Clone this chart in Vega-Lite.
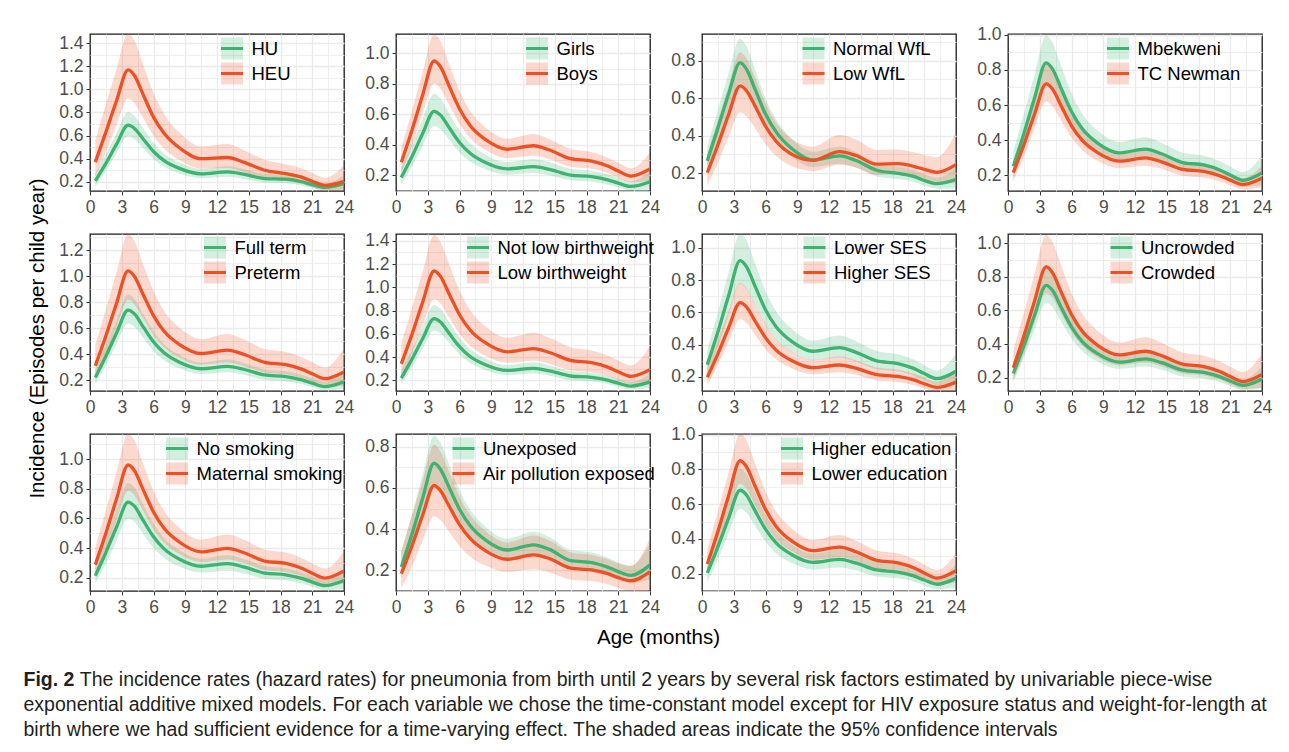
{
"$schema": "https://vega.github.io/schema/vega-lite/v6.json",
"background": "white",
"padding": {"left": 22, "top": 25, "right": 5, "bottom": 5},
"bounds": "flush",
"columns": 4,
"spacing": {"row": 43, "column": 52},
"data": {"values": [
{"p":1,"g":"HU","x":0.5,"y":0.207,"lo":0.16,"hi":0.267},
{"p":1,"g":"HU","x":1.5,"y":0.359,"lo":0.293,"hi":0.439},
{"p":1,"g":"HU","x":2.5,"y":0.524,"lo":0.444,"hi":0.618},
{"p":1,"g":"HU","x":3.6,"y":0.69,"lo":0.594,"hi":0.802},
{"p":1,"g":"HU","x":4.2,"y":0.662,"lo":0.57,"hi":0.769},
{"p":1,"g":"HU","x":5,"y":0.573,"lo":0.493,"hi":0.666},
{"p":1,"g":"HU","x":6,"y":0.462,"lo":0.398,"hi":0.537},
{"p":1,"g":"HU","x":7,"y":0.383,"lo":0.33,"hi":0.445},
{"p":1,"g":"HU","x":8.5,"y":0.314,"lo":0.27,"hi":0.365},
{"p":1,"g":"HU","x":10.5,"y":0.269,"lo":0.232,"hi":0.313},
{"p":1,"g":"HU","x":13,"y":0.286,"lo":0.244,"hi":0.335},
{"p":1,"g":"HU","x":14.5,"y":0.266,"lo":0.227,"hi":0.311},
{"p":1,"g":"HU","x":16.5,"y":0.228,"lo":0.193,"hi":0.269},
{"p":1,"g":"HU","x":18.5,"y":0.222,"lo":0.188,"hi":0.262},
{"p":1,"g":"HU","x":20,"y":0.2,"lo":0.168,"hi":0.238},
{"p":1,"g":"HU","x":21,"y":0.175,"lo":0.145,"hi":0.211},
{"p":1,"g":"HU","x":22.2,"y":0.152,"lo":0.123,"hi":0.188},
{"p":1,"g":"HU","x":24,"y":0.185,"lo":0.133,"hi":0.257},
{"p":1,"g":"HEU","x":0.5,"y":0.37,"lo":0.246,"hi":0.556},
{"p":1,"g":"HEU","x":1.5,"y":0.63,"lo":0.455,"hi":0.871},
{"p":1,"g":"HEU","x":2.5,"y":0.9,"lo":0.691,"hi":1.172},
{"p":1,"g":"HEU","x":3.6,"y":1.17,"lo":0.921,"hi":1.487},
{"p":1,"g":"HEU","x":4.2,"y":1.12,"lo":0.881,"hi":1.424},
{"p":1,"g":"HEU","x":5,"y":0.96,"lo":0.756,"hi":1.22},
{"p":1,"g":"HEU","x":6,"y":0.76,"lo":0.598,"hi":0.966},
{"p":1,"g":"HEU","x":7,"y":0.62,"lo":0.488,"hi":0.788},
{"p":1,"g":"HEU","x":8.5,"y":0.49,"lo":0.386,"hi":0.623},
{"p":1,"g":"HEU","x":10.5,"y":0.4,"lo":0.315,"hi":0.508},
{"p":1,"g":"HEU","x":13,"y":0.41,"lo":0.319,"hi":0.528},
{"p":1,"g":"HEU","x":14.5,"y":0.37,"lo":0.287,"hi":0.476},
{"p":1,"g":"HEU","x":16.5,"y":0.3,"lo":0.23,"hi":0.391},
{"p":1,"g":"HEU","x":18.5,"y":0.27,"lo":0.207,"hi":0.352},
{"p":1,"g":"HEU","x":20,"y":0.24,"lo":0.182,"hi":0.316},
{"p":1,"g":"HEU","x":21,"y":0.205,"lo":0.152,"hi":0.277},
{"p":1,"g":"HEU","x":22.2,"y":0.168,"lo":0.12,"hi":0.235},
{"p":1,"g":"HEU","x":24,"y":0.203,"lo":0.12,"hi":0.344},
{"p":2,"g":"Girls","x":0.5,"y":0.186,"lo":0.139,"hi":0.248},
{"p":2,"g":"Girls","x":1.5,"y":0.322,"lo":0.256,"hi":0.405},
{"p":2,"g":"Girls","x":2.5,"y":0.471,"lo":0.39,"hi":0.568},
{"p":2,"g":"Girls","x":3.6,"y":0.62,"lo":0.523,"hi":0.735},
{"p":2,"g":"Girls","x":4.2,"y":0.595,"lo":0.502,"hi":0.705},
{"p":2,"g":"Girls","x":5,"y":0.515,"lo":0.435,"hi":0.61},
{"p":2,"g":"Girls","x":6,"y":0.415,"lo":0.35,"hi":0.492},
{"p":2,"g":"Girls","x":7,"y":0.344,"lo":0.29,"hi":0.408},
{"p":2,"g":"Girls","x":8.5,"y":0.282,"lo":0.238,"hi":0.334},
{"p":2,"g":"Girls","x":10.5,"y":0.242,"lo":0.204,"hi":0.287},
{"p":2,"g":"Girls","x":13,"y":0.257,"lo":0.215,"hi":0.307},
{"p":2,"g":"Girls","x":14.5,"y":0.239,"lo":0.2,"hi":0.286},
{"p":2,"g":"Girls","x":16.5,"y":0.2015,"lo":0.167,"hi":0.243},
{"p":2,"g":"Girls","x":18.5,"y":0.191,"lo":0.158,"hi":0.23},
{"p":2,"g":"Girls","x":20,"y":0.1705,"lo":0.14,"hi":0.207},
{"p":2,"g":"Girls","x":21,"y":0.149,"lo":0.121,"hi":0.184},
{"p":2,"g":"Girls","x":22.2,"y":0.127,"lo":0.1,"hi":0.161},
{"p":2,"g":"Girls","x":24,"y":0.158,"lo":0.109,"hi":0.23},
{"p":2,"g":"Boys","x":0.5,"y":0.285,"lo":0.213,"hi":0.38},
{"p":2,"g":"Boys","x":1.5,"y":0.494,"lo":0.393,"hi":0.621},
{"p":2,"g":"Boys","x":2.5,"y":0.722,"lo":0.599,"hi":0.871},
{"p":2,"g":"Boys","x":3.6,"y":0.95,"lo":0.802,"hi":1.126},
{"p":2,"g":"Boys","x":4.2,"y":0.912,"lo":0.77,"hi":1.081},
{"p":2,"g":"Boys","x":5,"y":0.789,"lo":0.666,"hi":0.935},
{"p":2,"g":"Boys","x":6,"y":0.637,"lo":0.538,"hi":0.755},
{"p":2,"g":"Boys","x":7,"y":0.527,"lo":0.445,"hi":0.624},
{"p":2,"g":"Boys","x":8.5,"y":0.432,"lo":0.365,"hi":0.512},
{"p":2,"g":"Boys","x":10.5,"y":0.371,"lo":0.313,"hi":0.44},
{"p":2,"g":"Boys","x":13,"y":0.394,"lo":0.33,"hi":0.471},
{"p":2,"g":"Boys","x":14.5,"y":0.366,"lo":0.306,"hi":0.437},
{"p":2,"g":"Boys","x":16.5,"y":0.309,"lo":0.256,"hi":0.373},
{"p":2,"g":"Boys","x":18.5,"y":0.293,"lo":0.243,"hi":0.353},
{"p":2,"g":"Boys","x":20,"y":0.261,"lo":0.215,"hi":0.317},
{"p":2,"g":"Boys","x":21,"y":0.228,"lo":0.184,"hi":0.282},
{"p":2,"g":"Boys","x":22.2,"y":0.195,"lo":0.154,"hi":0.247},
{"p":2,"g":"Boys","x":24,"y":0.242,"lo":0.166,"hi":0.352},
{"p":3,"g":"Normal WfL","x":0.5,"y":0.265,"lo":0.205,"hi":0.342},
{"p":3,"g":"Normal WfL","x":1.5,"y":0.44,"lo":0.359,"hi":0.539},
{"p":3,"g":"Normal WfL","x":2.5,"y":0.62,"lo":0.526,"hi":0.731},
{"p":3,"g":"Normal WfL","x":3.6,"y":0.79,"lo":0.68,"hi":0.918},
{"p":3,"g":"Normal WfL","x":4.2,"y":0.755,"lo":0.65,"hi":0.877},
{"p":3,"g":"Normal WfL","x":5,"y":0.65,"lo":0.56,"hi":0.755},
{"p":3,"g":"Normal WfL","x":6,"y":0.515,"lo":0.443,"hi":0.598},
{"p":3,"g":"Normal WfL","x":7,"y":0.42,"lo":0.362,"hi":0.488},
{"p":3,"g":"Normal WfL","x":8.5,"y":0.33,"lo":0.284,"hi":0.383},
{"p":3,"g":"Normal WfL","x":10.5,"y":0.27,"lo":0.232,"hi":0.314},
{"p":3,"g":"Normal WfL","x":13,"y":0.292,"lo":0.249,"hi":0.342},
{"p":3,"g":"Normal WfL","x":14.5,"y":0.268,"lo":0.229,"hi":0.314},
{"p":3,"g":"Normal WfL","x":16.5,"y":0.215,"lo":0.182,"hi":0.253},
{"p":3,"g":"Normal WfL","x":18.5,"y":0.198,"lo":0.168,"hi":0.233},
{"p":3,"g":"Normal WfL","x":20,"y":0.182,"lo":0.153,"hi":0.216},
{"p":3,"g":"Normal WfL","x":21,"y":0.16,"lo":0.133,"hi":0.193},
{"p":3,"g":"Normal WfL","x":22.2,"y":0.143,"lo":0.116,"hi":0.176},
{"p":3,"g":"Normal WfL","x":24,"y":0.165,"lo":0.119,"hi":0.23},
{"p":3,"g":"Low WfL","x":0.5,"y":0.202,"lo":0.134,"hi":0.304},
{"p":3,"g":"Low WfL","x":1.5,"y":0.35,"lo":0.253,"hi":0.484},
{"p":3,"g":"Low WfL","x":2.5,"y":0.51,"lo":0.392,"hi":0.664},
{"p":3,"g":"Low WfL","x":3.6,"y":0.666,"lo":0.524,"hi":0.846},
{"p":3,"g":"Low WfL","x":4.2,"y":0.64,"lo":0.504,"hi":0.813},
{"p":3,"g":"Low WfL","x":5,"y":0.56,"lo":0.441,"hi":0.712},
{"p":3,"g":"Low WfL","x":6,"y":0.45,"lo":0.354,"hi":0.572},
{"p":3,"g":"Low WfL","x":7,"y":0.37,"lo":0.291,"hi":0.47},
{"p":3,"g":"Low WfL","x":8.5,"y":0.3,"lo":0.236,"hi":0.381},
{"p":3,"g":"Low WfL","x":10.5,"y":0.268,"lo":0.211,"hi":0.341},
{"p":3,"g":"Low WfL","x":13,"y":0.314,"lo":0.244,"hi":0.404},
{"p":3,"g":"Low WfL","x":14.5,"y":0.295,"lo":0.229,"hi":0.38},
{"p":3,"g":"Low WfL","x":16.5,"y":0.248,"lo":0.19,"hi":0.323},
{"p":3,"g":"Low WfL","x":18.5,"y":0.25,"lo":0.192,"hi":0.326},
{"p":3,"g":"Low WfL","x":20,"y":0.236,"lo":0.179,"hi":0.311},
{"p":3,"g":"Low WfL","x":21,"y":0.22,"lo":0.163,"hi":0.297},
{"p":3,"g":"Low WfL","x":22.2,"y":0.204,"lo":0.146,"hi":0.285},
{"p":3,"g":"Low WfL","x":24,"y":0.245,"lo":0.145,"hi":0.416},
{"p":4,"g":"Mbekweni","x":0.5,"y":0.252,"lo":0.189,"hi":0.336},
{"p":4,"g":"Mbekweni","x":1.5,"y":0.437,"lo":0.347,"hi":0.55},
{"p":4,"g":"Mbekweni","x":2.5,"y":0.638,"lo":0.529,"hi":0.769},
{"p":4,"g":"Mbekweni","x":3.6,"y":0.84,"lo":0.709,"hi":0.995},
{"p":4,"g":"Mbekweni","x":4.2,"y":0.806,"lo":0.68,"hi":0.955},
{"p":4,"g":"Mbekweni","x":5,"y":0.697,"lo":0.588,"hi":0.826},
{"p":4,"g":"Mbekweni","x":6,"y":0.563,"lo":0.475,"hi":0.667},
{"p":4,"g":"Mbekweni","x":7,"y":0.466,"lo":0.393,"hi":0.552},
{"p":4,"g":"Mbekweni","x":8.5,"y":0.382,"lo":0.322,"hi":0.453},
{"p":4,"g":"Mbekweni","x":10.5,"y":0.328,"lo":0.277,"hi":0.389},
{"p":4,"g":"Mbekweni","x":13,"y":0.349,"lo":0.292,"hi":0.417},
{"p":4,"g":"Mbekweni","x":14.5,"y":0.323,"lo":0.27,"hi":0.386},
{"p":4,"g":"Mbekweni","x":16.5,"y":0.273,"lo":0.226,"hi":0.329},
{"p":4,"g":"Mbekweni","x":18.5,"y":0.259,"lo":0.215,"hi":0.312},
{"p":4,"g":"Mbekweni","x":20,"y":0.231,"lo":0.19,"hi":0.281},
{"p":4,"g":"Mbekweni","x":21,"y":0.202,"lo":0.163,"hi":0.25},
{"p":4,"g":"Mbekweni","x":22.2,"y":0.172,"lo":0.136,"hi":0.218},
{"p":4,"g":"Mbekweni","x":24,"y":0.214,"lo":0.147,"hi":0.311},
{"p":4,"g":"TC Newman","x":0.5,"y":0.216,"lo":0.167,"hi":0.279},
{"p":4,"g":"TC Newman","x":1.5,"y":0.374,"lo":0.306,"hi":0.458},
{"p":4,"g":"TC Newman","x":2.5,"y":0.547,"lo":0.464,"hi":0.645},
{"p":4,"g":"TC Newman","x":3.6,"y":0.72,"lo":0.62,"hi":0.837},
{"p":4,"g":"TC Newman","x":4.2,"y":0.691,"lo":0.595,"hi":0.803},
{"p":4,"g":"TC Newman","x":5,"y":0.598,"lo":0.515,"hi":0.695},
{"p":4,"g":"TC Newman","x":6,"y":0.482,"lo":0.415,"hi":0.56},
{"p":4,"g":"TC Newman","x":7,"y":0.4,"lo":0.344,"hi":0.465},
{"p":4,"g":"TC Newman","x":8.5,"y":0.328,"lo":0.282,"hi":0.381},
{"p":4,"g":"TC Newman","x":10.5,"y":0.281,"lo":0.242,"hi":0.327},
{"p":4,"g":"TC Newman","x":13,"y":0.299,"lo":0.255,"hi":0.35},
{"p":4,"g":"TC Newman","x":14.5,"y":0.277,"lo":0.237,"hi":0.324},
{"p":4,"g":"TC Newman","x":16.5,"y":0.234,"lo":0.198,"hi":0.276},
{"p":4,"g":"TC Newman","x":18.5,"y":0.222,"lo":0.188,"hi":0.262},
{"p":4,"g":"TC Newman","x":20,"y":0.198,"lo":0.167,"hi":0.235},
{"p":4,"g":"TC Newman","x":21,"y":0.173,"lo":0.143,"hi":0.209},
{"p":4,"g":"TC Newman","x":22.2,"y":0.148,"lo":0.12,"hi":0.183},
{"p":4,"g":"TC Newman","x":24,"y":0.184,"lo":0.132,"hi":0.256},
{"p":5,"g":"Full term","x":0.5,"y":0.222,"lo":0.172,"hi":0.286},
{"p":5,"g":"Full term","x":1.5,"y":0.385,"lo":0.315,"hi":0.471},
{"p":5,"g":"Full term","x":2.5,"y":0.562,"lo":0.477,"hi":0.663},
{"p":5,"g":"Full term","x":3.6,"y":0.74,"lo":0.637,"hi":0.86},
{"p":5,"g":"Full term","x":4.2,"y":0.71,"lo":0.611,"hi":0.825},
{"p":5,"g":"Full term","x":5,"y":0.614,"lo":0.529,"hi":0.713},
{"p":5,"g":"Full term","x":6,"y":0.496,"lo":0.427,"hi":0.576},
{"p":5,"g":"Full term","x":7,"y":0.411,"lo":0.354,"hi":0.478},
{"p":5,"g":"Full term","x":8.5,"y":0.337,"lo":0.29,"hi":0.392},
{"p":5,"g":"Full term","x":10.5,"y":0.289,"lo":0.249,"hi":0.336},
{"p":5,"g":"Full term","x":13,"y":0.307,"lo":0.262,"hi":0.36},
{"p":5,"g":"Full term","x":14.5,"y":0.285,"lo":0.243,"hi":0.334},
{"p":5,"g":"Full term","x":16.5,"y":0.241,"lo":0.204,"hi":0.284},
{"p":5,"g":"Full term","x":18.5,"y":0.228,"lo":0.193,"hi":0.269},
{"p":5,"g":"Full term","x":20,"y":0.2035,"lo":0.171,"hi":0.242},
{"p":5,"g":"Full term","x":21,"y":0.178,"lo":0.148,"hi":0.215},
{"p":5,"g":"Full term","x":22.2,"y":0.152,"lo":0.123,"hi":0.188},
{"p":5,"g":"Full term","x":24,"y":0.189,"lo":0.136,"hi":0.263},
{"p":5,"g":"Preterm","x":0.5,"y":0.312,"lo":0.207,"hi":0.469},
{"p":5,"g":"Preterm","x":1.5,"y":0.541,"lo":0.391,"hi":0.748},
{"p":5,"g":"Preterm","x":2.5,"y":0.79,"lo":0.607,"hi":1.029},
{"p":5,"g":"Preterm","x":3.6,"y":1.04,"lo":0.818,"hi":1.322},
{"p":5,"g":"Preterm","x":4.2,"y":0.998,"lo":0.785,"hi":1.268},
{"p":5,"g":"Preterm","x":5,"y":0.863,"lo":0.679,"hi":1.097},
{"p":5,"g":"Preterm","x":6,"y":0.697,"lo":0.549,"hi":0.886},
{"p":5,"g":"Preterm","x":7,"y":0.577,"lo":0.454,"hi":0.733},
{"p":5,"g":"Preterm","x":8.5,"y":0.473,"lo":0.372,"hi":0.601},
{"p":5,"g":"Preterm","x":10.5,"y":0.406,"lo":0.32,"hi":0.516},
{"p":5,"g":"Preterm","x":13,"y":0.432,"lo":0.336,"hi":0.556},
{"p":5,"g":"Preterm","x":14.5,"y":0.4,"lo":0.311,"hi":0.515},
{"p":5,"g":"Preterm","x":16.5,"y":0.338,"lo":0.26,"hi":0.44},
{"p":5,"g":"Preterm","x":18.5,"y":0.32,"lo":0.246,"hi":0.417},
{"p":5,"g":"Preterm","x":20,"y":0.286,"lo":0.217,"hi":0.377},
{"p":5,"g":"Preterm","x":21,"y":0.25,"lo":0.185,"hi":0.338},
{"p":5,"g":"Preterm","x":22.2,"y":0.213,"lo":0.152,"hi":0.298},
{"p":5,"g":"Preterm","x":24,"y":0.265,"lo":0.156,"hi":0.449},
{"p":6,"g":"Not low birthweight","x":0.5,"y":0.219,"lo":0.17,"hi":0.283},
{"p":6,"g":"Not low birthweight","x":1.5,"y":0.38,"lo":0.31,"hi":0.465},
{"p":6,"g":"Not low birthweight","x":2.5,"y":0.555,"lo":0.471,"hi":0.654},
{"p":6,"g":"Not low birthweight","x":3.6,"y":0.73,"lo":0.629,"hi":0.848},
{"p":6,"g":"Not low birthweight","x":4.2,"y":0.701,"lo":0.604,"hi":0.815},
{"p":6,"g":"Not low birthweight","x":5,"y":0.606,"lo":0.522,"hi":0.704},
{"p":6,"g":"Not low birthweight","x":6,"y":0.489,"lo":0.421,"hi":0.568},
{"p":6,"g":"Not low birthweight","x":7,"y":0.405,"lo":0.349,"hi":0.471},
{"p":6,"g":"Not low birthweight","x":8.5,"y":0.332,"lo":0.286,"hi":0.386},
{"p":6,"g":"Not low birthweight","x":10.5,"y":0.285,"lo":0.245,"hi":0.331},
{"p":6,"g":"Not low birthweight","x":13,"y":0.303,"lo":0.259,"hi":0.355},
{"p":6,"g":"Not low birthweight","x":14.5,"y":0.281,"lo":0.24,"hi":0.329},
{"p":6,"g":"Not low birthweight","x":16.5,"y":0.237,"lo":0.201,"hi":0.279},
{"p":6,"g":"Not low birthweight","x":18.5,"y":0.225,"lo":0.191,"hi":0.265},
{"p":6,"g":"Not low birthweight","x":20,"y":0.201,"lo":0.169,"hi":0.239},
{"p":6,"g":"Not low birthweight","x":21,"y":0.175,"lo":0.145,"hi":0.211},
{"p":6,"g":"Not low birthweight","x":22.2,"y":0.15,"lo":0.122,"hi":0.185},
{"p":6,"g":"Not low birthweight","x":24,"y":0.186,"lo":0.134,"hi":0.259},
{"p":6,"g":"Low birthweight","x":0.5,"y":0.342,"lo":0.227,"hi":0.514},
{"p":6,"g":"Low birthweight","x":1.5,"y":0.593,"lo":0.429,"hi":0.82},
{"p":6,"g":"Low birthweight","x":2.5,"y":0.866,"lo":0.665,"hi":1.128},
{"p":6,"g":"Low birthweight","x":3.6,"y":1.14,"lo":0.897,"hi":1.449},
{"p":6,"g":"Low birthweight","x":4.2,"y":1.094,"lo":0.861,"hi":1.39},
{"p":6,"g":"Low birthweight","x":5,"y":0.946,"lo":0.745,"hi":1.202},
{"p":6,"g":"Low birthweight","x":6,"y":0.764,"lo":0.601,"hi":0.971},
{"p":6,"g":"Low birthweight","x":7,"y":0.633,"lo":0.498,"hi":0.805},
{"p":6,"g":"Low birthweight","x":8.5,"y":0.519,"lo":0.408,"hi":0.66},
{"p":6,"g":"Low birthweight","x":10.5,"y":0.445,"lo":0.35,"hi":0.566},
{"p":6,"g":"Low birthweight","x":13,"y":0.473,"lo":0.368,"hi":0.609},
{"p":6,"g":"Low birthweight","x":14.5,"y":0.439,"lo":0.341,"hi":0.565},
{"p":6,"g":"Low birthweight","x":16.5,"y":0.371,"lo":0.285,"hi":0.483},
{"p":6,"g":"Low birthweight","x":18.5,"y":0.351,"lo":0.27,"hi":0.457},
{"p":6,"g":"Low birthweight","x":20,"y":0.3135,"lo":0.238,"hi":0.413},
{"p":6,"g":"Low birthweight","x":21,"y":0.274,"lo":0.203,"hi":0.37},
{"p":6,"g":"Low birthweight","x":22.2,"y":0.234,"lo":0.167,"hi":0.327},
{"p":6,"g":"Low birthweight","x":24,"y":0.291,"lo":0.172,"hi":0.494},
{"p":7,"g":"Lower SES","x":0.5,"y":0.276,"lo":0.207,"hi":0.368},
{"p":7,"g":"Lower SES","x":1.5,"y":0.478,"lo":0.38,"hi":0.601},
{"p":7,"g":"Lower SES","x":2.5,"y":0.699,"lo":0.579,"hi":0.843},
{"p":7,"g":"Lower SES","x":3.6,"y":0.92,"lo":0.776,"hi":1.09},
{"p":7,"g":"Lower SES","x":4.2,"y":0.883,"lo":0.745,"hi":1.046},
{"p":7,"g":"Lower SES","x":5,"y":0.764,"lo":0.645,"hi":0.905},
{"p":7,"g":"Lower SES","x":6,"y":0.616,"lo":0.52,"hi":0.73},
{"p":7,"g":"Lower SES","x":7,"y":0.511,"lo":0.431,"hi":0.606},
{"p":7,"g":"Lower SES","x":8.5,"y":0.419,"lo":0.354,"hi":0.497},
{"p":7,"g":"Lower SES","x":10.5,"y":0.359,"lo":0.303,"hi":0.425},
{"p":7,"g":"Lower SES","x":13,"y":0.382,"lo":0.32,"hi":0.456},
{"p":7,"g":"Lower SES","x":14.5,"y":0.354,"lo":0.296,"hi":0.423},
{"p":7,"g":"Lower SES","x":16.5,"y":0.299,"lo":0.248,"hi":0.361},
{"p":7,"g":"Lower SES","x":18.5,"y":0.283,"lo":0.235,"hi":0.341},
{"p":7,"g":"Lower SES","x":20,"y":0.253,"lo":0.208,"hi":0.308},
{"p":7,"g":"Lower SES","x":21,"y":0.221,"lo":0.179,"hi":0.273},
{"p":7,"g":"Lower SES","x":22.2,"y":0.189,"lo":0.149,"hi":0.24},
{"p":7,"g":"Lower SES","x":24,"y":0.235,"lo":0.162,"hi":0.342},
{"p":7,"g":"Higher SES","x":0.5,"y":0.198,"lo":0.148,"hi":0.264},
{"p":7,"g":"Higher SES","x":1.5,"y":0.343,"lo":0.273,"hi":0.431},
{"p":7,"g":"Higher SES","x":2.5,"y":0.502,"lo":0.416,"hi":0.605},
{"p":7,"g":"Higher SES","x":3.6,"y":0.66,"lo":0.557,"hi":0.782},
{"p":7,"g":"Higher SES","x":4.2,"y":0.634,"lo":0.535,"hi":0.751},
{"p":7,"g":"Higher SES","x":5,"y":0.548,"lo":0.463,"hi":0.649},
{"p":7,"g":"Higher SES","x":6,"y":0.442,"lo":0.373,"hi":0.524},
{"p":7,"g":"Higher SES","x":7,"y":0.366,"lo":0.309,"hi":0.434},
{"p":7,"g":"Higher SES","x":8.5,"y":0.3,"lo":0.253,"hi":0.356},
{"p":7,"g":"Higher SES","x":10.5,"y":0.257,"lo":0.217,"hi":0.305},
{"p":7,"g":"Higher SES","x":13,"y":0.274,"lo":0.229,"hi":0.327},
{"p":7,"g":"Higher SES","x":14.5,"y":0.254,"lo":0.213,"hi":0.304},
{"p":7,"g":"Higher SES","x":16.5,"y":0.2145,"lo":0.178,"hi":0.259},
{"p":7,"g":"Higher SES","x":18.5,"y":0.203,"lo":0.168,"hi":0.245},
{"p":7,"g":"Higher SES","x":20,"y":0.1815,"lo":0.149,"hi":0.221},
{"p":7,"g":"Higher SES","x":21,"y":0.158,"lo":0.128,"hi":0.195},
{"p":7,"g":"Higher SES","x":22.2,"y":0.135,"lo":0.106,"hi":0.171},
{"p":7,"g":"Higher SES","x":24,"y":0.168,"lo":0.116,"hi":0.244},
{"p":8,"g":"Uncrowded","x":0.5,"y":0.225,"lo":0.174,"hi":0.29},
{"p":8,"g":"Uncrowded","x":1.5,"y":0.39,"lo":0.319,"hi":0.477},
{"p":8,"g":"Uncrowded","x":2.5,"y":0.57,"lo":0.483,"hi":0.672},
{"p":8,"g":"Uncrowded","x":3.6,"y":0.75,"lo":0.646,"hi":0.872},
{"p":8,"g":"Uncrowded","x":4.2,"y":0.72,"lo":0.62,"hi":0.837},
{"p":8,"g":"Uncrowded","x":5,"y":0.6225,"lo":0.536,"hi":0.723},
{"p":8,"g":"Uncrowded","x":6,"y":0.5025,"lo":0.433,"hi":0.584},
{"p":8,"g":"Uncrowded","x":7,"y":0.416,"lo":0.358,"hi":0.483},
{"p":8,"g":"Uncrowded","x":8.5,"y":0.341,"lo":0.294,"hi":0.396},
{"p":8,"g":"Uncrowded","x":10.5,"y":0.2925,"lo":0.252,"hi":0.34},
{"p":8,"g":"Uncrowded","x":13,"y":0.311,"lo":0.266,"hi":0.364},
{"p":8,"g":"Uncrowded","x":14.5,"y":0.289,"lo":0.247,"hi":0.338},
{"p":8,"g":"Uncrowded","x":16.5,"y":0.244,"lo":0.207,"hi":0.288},
{"p":8,"g":"Uncrowded","x":18.5,"y":0.231,"lo":0.196,"hi":0.272},
{"p":8,"g":"Uncrowded","x":20,"y":0.206,"lo":0.173,"hi":0.245},
{"p":8,"g":"Uncrowded","x":21,"y":0.18,"lo":0.149,"hi":0.217},
{"p":8,"g":"Uncrowded","x":22.2,"y":0.154,"lo":0.125,"hi":0.19},
{"p":8,"g":"Uncrowded","x":24,"y":0.191,"lo":0.137,"hi":0.266},
{"p":8,"g":"Crowded","x":0.5,"y":0.258,"lo":0.184,"hi":0.362},
{"p":8,"g":"Crowded","x":1.5,"y":0.447,"lo":0.341,"hi":0.586},
{"p":8,"g":"Crowded","x":2.5,"y":0.654,"lo":0.525,"hi":0.815},
{"p":8,"g":"Crowded","x":3.6,"y":0.86,"lo":0.704,"hi":1.05},
{"p":8,"g":"Crowded","x":4.2,"y":0.826,"lo":0.676,"hi":1.009},
{"p":8,"g":"Crowded","x":5,"y":0.714,"lo":0.585,"hi":0.872},
{"p":8,"g":"Crowded","x":6,"y":0.576,"lo":0.472,"hi":0.703},
{"p":8,"g":"Crowded","x":7,"y":0.477,"lo":0.391,"hi":0.582},
{"p":8,"g":"Crowded","x":8.5,"y":0.391,"lo":0.32,"hi":0.477},
{"p":8,"g":"Crowded","x":10.5,"y":0.335,"lo":0.274,"hi":0.409},
{"p":8,"g":"Crowded","x":13,"y":0.357,"lo":0.29,"hi":0.441},
{"p":8,"g":"Crowded","x":14.5,"y":0.331,"lo":0.268,"hi":0.408},
{"p":8,"g":"Crowded","x":16.5,"y":0.28,"lo":0.225,"hi":0.349},
{"p":8,"g":"Crowded","x":18.5,"y":0.265,"lo":0.213,"hi":0.33},
{"p":8,"g":"Crowded","x":20,"y":0.2365,"lo":0.188,"hi":0.298},
{"p":8,"g":"Crowded","x":21,"y":0.206,"lo":0.16,"hi":0.265},
{"p":8,"g":"Crowded","x":22.2,"y":0.176,"lo":0.133,"hi":0.233},
{"p":8,"g":"Crowded","x":24,"y":0.219,"lo":0.141,"hi":0.34},
{"p":9,"g":"No smoking","x":0.5,"y":0.213,"lo":0.16,"hi":0.284},
{"p":9,"g":"No smoking","x":1.5,"y":0.369,"lo":0.293,"hi":0.464},
{"p":9,"g":"No smoking","x":2.5,"y":0.54,"lo":0.448,"hi":0.651},
{"p":9,"g":"No smoking","x":3.6,"y":0.71,"lo":0.599,"hi":0.841},
{"p":9,"g":"No smoking","x":4.2,"y":0.682,"lo":0.576,"hi":0.808},
{"p":9,"g":"No smoking","x":5,"y":0.589,"lo":0.497,"hi":0.698},
{"p":9,"g":"No smoking","x":6,"y":0.476,"lo":0.402,"hi":0.564},
{"p":9,"g":"No smoking","x":7,"y":0.394,"lo":0.333,"hi":0.467},
{"p":9,"g":"No smoking","x":8.5,"y":0.323,"lo":0.273,"hi":0.383},
{"p":9,"g":"No smoking","x":10.5,"y":0.277,"lo":0.234,"hi":0.328},
{"p":9,"g":"No smoking","x":13,"y":0.295,"lo":0.247,"hi":0.353},
{"p":9,"g":"No smoking","x":14.5,"y":0.273,"lo":0.229,"hi":0.326},
{"p":9,"g":"No smoking","x":16.5,"y":0.231,"lo":0.192,"hi":0.279},
{"p":9,"g":"No smoking","x":18.5,"y":0.219,"lo":0.182,"hi":0.264},
{"p":9,"g":"No smoking","x":20,"y":0.195,"lo":0.16,"hi":0.237},
{"p":9,"g":"No smoking","x":21,"y":0.17,"lo":0.138,"hi":0.21},
{"p":9,"g":"No smoking","x":22.2,"y":0.146,"lo":0.115,"hi":0.185},
{"p":9,"g":"No smoking","x":24,"y":0.181,"lo":0.125,"hi":0.263},
{"p":9,"g":"Maternal smoking","x":0.5,"y":0.288,"lo":0.205,"hi":0.405},
{"p":9,"g":"Maternal smoking","x":1.5,"y":0.499,"lo":0.381,"hi":0.654},
{"p":9,"g":"Maternal smoking","x":2.5,"y":0.73,"lo":0.586,"hi":0.91},
{"p":9,"g":"Maternal smoking","x":3.6,"y":0.96,"lo":0.786,"hi":1.172},
{"p":9,"g":"Maternal smoking","x":4.2,"y":0.922,"lo":0.755,"hi":1.126},
{"p":9,"g":"Maternal smoking","x":5,"y":0.797,"lo":0.653,"hi":0.973},
{"p":9,"g":"Maternal smoking","x":6,"y":0.643,"lo":0.527,"hi":0.785},
{"p":9,"g":"Maternal smoking","x":7,"y":0.533,"lo":0.437,"hi":0.651},
{"p":9,"g":"Maternal smoking","x":8.5,"y":0.437,"lo":0.358,"hi":0.534},
{"p":9,"g":"Maternal smoking","x":10.5,"y":0.374,"lo":0.306,"hi":0.457},
{"p":9,"g":"Maternal smoking","x":13,"y":0.398,"lo":0.323,"hi":0.491},
{"p":9,"g":"Maternal smoking","x":14.5,"y":0.37,"lo":0.3,"hi":0.457},
{"p":9,"g":"Maternal smoking","x":16.5,"y":0.312,"lo":0.251,"hi":0.389},
{"p":9,"g":"Maternal smoking","x":18.5,"y":0.296,"lo":0.238,"hi":0.369},
{"p":9,"g":"Maternal smoking","x":20,"y":0.264,"lo":0.21,"hi":0.332},
{"p":9,"g":"Maternal smoking","x":21,"y":0.23,"lo":0.179,"hi":0.295},
{"p":9,"g":"Maternal smoking","x":22.2,"y":0.197,"lo":0.149,"hi":0.261},
{"p":9,"g":"Maternal smoking","x":24,"y":0.245,"lo":0.158,"hi":0.38},
{"p":10,"g":"Unexposed","x":0.5,"y":0.216,"lo":0.162,"hi":0.288},
{"p":10,"g":"Unexposed","x":1.5,"y":0.374,"lo":0.297,"hi":0.47},
{"p":10,"g":"Unexposed","x":2.5,"y":0.547,"lo":0.453,"hi":0.66},
{"p":10,"g":"Unexposed","x":3.6,"y":0.72,"lo":0.608,"hi":0.853},
{"p":10,"g":"Unexposed","x":4.2,"y":0.691,"lo":0.583,"hi":0.819},
{"p":10,"g":"Unexposed","x":5,"y":0.605,"lo":0.511,"hi":0.717},
{"p":10,"g":"Unexposed","x":6,"y":0.497,"lo":0.419,"hi":0.589},
{"p":10,"g":"Unexposed","x":7,"y":0.418,"lo":0.353,"hi":0.495},
{"p":10,"g":"Unexposed","x":8.5,"y":0.346,"lo":0.292,"hi":0.41},
{"p":10,"g":"Unexposed","x":10.5,"y":0.299,"lo":0.252,"hi":0.354},
{"p":10,"g":"Unexposed","x":13,"y":0.324,"lo":0.271,"hi":0.387},
{"p":10,"g":"Unexposed","x":14.5,"y":0.302,"lo":0.253,"hi":0.361},
{"p":10,"g":"Unexposed","x":16.5,"y":0.248,"lo":0.206,"hi":0.299},
{"p":10,"g":"Unexposed","x":18.5,"y":0.238,"lo":0.197,"hi":0.287},
{"p":10,"g":"Unexposed","x":20,"y":0.216,"lo":0.178,"hi":0.263},
{"p":10,"g":"Unexposed","x":21,"y":0.194,"lo":0.157,"hi":0.24},
{"p":10,"g":"Unexposed","x":22.2,"y":0.176,"lo":0.139,"hi":0.223},
{"p":10,"g":"Unexposed","x":24,"y":0.227,"lo":0.156,"hi":0.33},
{"p":10,"g":"Air pollution exposed","x":0.5,"y":0.184,"lo":0.114,"hi":0.296},
{"p":10,"g":"Air pollution exposed","x":1.5,"y":0.318,"lo":0.218,"hi":0.464},
{"p":10,"g":"Air pollution exposed","x":2.5,"y":0.465,"lo":0.342,"hi":0.633},
{"p":10,"g":"Air pollution exposed","x":3.6,"y":0.612,"lo":0.463,"hi":0.81},
{"p":10,"g":"Air pollution exposed","x":4.2,"y":0.587,"lo":0.444,"hi":0.777},
{"p":10,"g":"Air pollution exposed","x":5,"y":0.514,"lo":0.389,"hi":0.68},
{"p":10,"g":"Air pollution exposed","x":6,"y":0.422,"lo":0.319,"hi":0.558},
{"p":10,"g":"Air pollution exposed","x":7,"y":0.355,"lo":0.268,"hi":0.47},
{"p":10,"g":"Air pollution exposed","x":8.5,"y":0.294,"lo":0.222,"hi":0.389},
{"p":10,"g":"Air pollution exposed","x":10.5,"y":0.254,"lo":0.192,"hi":0.336},
{"p":10,"g":"Air pollution exposed","x":13,"y":0.275,"lo":0.205,"hi":0.369},
{"p":10,"g":"Air pollution exposed","x":14.5,"y":0.257,"lo":0.191,"hi":0.345},
{"p":10,"g":"Air pollution exposed","x":16.5,"y":0.211,"lo":0.155,"hi":0.287},
{"p":10,"g":"Air pollution exposed","x":18.5,"y":0.202,"lo":0.148,"hi":0.275},
{"p":10,"g":"Air pollution exposed","x":20,"y":0.184,"lo":0.133,"hi":0.254},
{"p":10,"g":"Air pollution exposed","x":21,"y":0.165,"lo":0.116,"hi":0.234},
{"p":10,"g":"Air pollution exposed","x":22.2,"y":0.15,"lo":0.101,"hi":0.222},
{"p":10,"g":"Air pollution exposed","x":24,"y":0.193,"lo":0.104,"hi":0.357},
{"p":11,"g":"Higher education","x":0.5,"y":0.204,"lo":0.153,"hi":0.272},
{"p":11,"g":"Higher education","x":1.5,"y":0.354,"lo":0.281,"hi":0.445},
{"p":11,"g":"Higher education","x":2.5,"y":0.517,"lo":0.429,"hi":0.624},
{"p":11,"g":"Higher education","x":3.6,"y":0.68,"lo":0.574,"hi":0.806},
{"p":11,"g":"Higher education","x":4.2,"y":0.653,"lo":0.551,"hi":0.774},
{"p":11,"g":"Higher education","x":5,"y":0.564,"lo":0.476,"hi":0.668},
{"p":11,"g":"Higher education","x":6,"y":0.456,"lo":0.385,"hi":0.54},
{"p":11,"g":"Higher education","x":7,"y":0.377,"lo":0.318,"hi":0.447},
{"p":11,"g":"Higher education","x":8.5,"y":0.309,"lo":0.261,"hi":0.366},
{"p":11,"g":"Higher education","x":10.5,"y":0.265,"lo":0.224,"hi":0.314},
{"p":11,"g":"Higher education","x":13,"y":0.282,"lo":0.236,"hi":0.337},
{"p":11,"g":"Higher education","x":14.5,"y":0.262,"lo":0.219,"hi":0.313},
{"p":11,"g":"Higher education","x":16.5,"y":0.221,"lo":0.183,"hi":0.267},
{"p":11,"g":"Higher education","x":18.5,"y":0.209,"lo":0.173,"hi":0.252},
{"p":11,"g":"Higher education","x":20,"y":0.187,"lo":0.154,"hi":0.227},
{"p":11,"g":"Higher education","x":21,"y":0.163,"lo":0.132,"hi":0.202},
{"p":11,"g":"Higher education","x":22.2,"y":0.139,"lo":0.11,"hi":0.176},
{"p":11,"g":"Higher education","x":24,"y":0.173,"lo":0.119,"hi":0.252},
{"p":11,"g":"Lower education","x":0.5,"y":0.255,"lo":0.191,"hi":0.34},
{"p":11,"g":"Lower education","x":1.5,"y":0.442,"lo":0.351,"hi":0.556},
{"p":11,"g":"Lower education","x":2.5,"y":0.646,"lo":0.536,"hi":0.779},
{"p":11,"g":"Lower education","x":3.6,"y":0.85,"lo":0.717,"hi":1.007},
{"p":11,"g":"Lower education","x":4.2,"y":0.816,"lo":0.689,"hi":0.967},
{"p":11,"g":"Lower education","x":5,"y":0.706,"lo":0.596,"hi":0.837},
{"p":11,"g":"Lower education","x":6,"y":0.57,"lo":0.481,"hi":0.675},
{"p":11,"g":"Lower education","x":7,"y":0.472,"lo":0.398,"hi":0.559},
{"p":11,"g":"Lower education","x":8.5,"y":0.387,"lo":0.327,"hi":0.459},
{"p":11,"g":"Lower education","x":10.5,"y":0.332,"lo":0.28,"hi":0.393},
{"p":11,"g":"Lower education","x":13,"y":0.353,"lo":0.295,"hi":0.422},
{"p":11,"g":"Lower education","x":14.5,"y":0.327,"lo":0.274,"hi":0.391},
{"p":11,"g":"Lower education","x":16.5,"y":0.276,"lo":0.229,"hi":0.333},
{"p":11,"g":"Lower education","x":18.5,"y":0.262,"lo":0.217,"hi":0.316},
{"p":11,"g":"Lower education","x":20,"y":0.234,"lo":0.192,"hi":0.285},
{"p":11,"g":"Lower education","x":21,"y":0.204,"lo":0.165,"hi":0.252},
{"p":11,"g":"Lower education","x":22.2,"y":0.174,"lo":0.137,"hi":0.221},
{"p":11,"g":"Lower education","x":24,"y":0.217,"lo":0.149,"hi":0.316}
]},
"concat": [
{"width":254,"height":157,"transform":[{"filter":"datum.p == 1"}],"layer":[
 {"mark":{"type":"area","interpolate":"monotone","fillOpacity":0.22,"clip":true},"encoding":{
  "x":{"field":"x","type":"quantitative","scale":{"domain":[0,24],"nice":false,"zero":false},"axis":{"title":null,"values":[0,1.5,3,4.5,6,7.5,9,10.5,12,13.5,15,16.5,18,19.5,21,22.5,24],"labelOverlap":false,"labelFlush":false,"labelExpr":"datum.value % 3 == 0 ? format(datum.value, 'd') : ''","tickOpacity":{"condition":{"test":"datum.value % 3 != 0","value":0},"value":1},"gridWidth":{"condition":{"test":"datum.value % 3 != 0","value":0.8},"value":1.3},"gridOpacity":{"condition":{"test":"datum.value == 0 || datum.value == 24","value":0},"value":1}}},
  "y":{"field":"lo","type":"quantitative","scale":{"domain":[0.12,1.48],"nice":false,"zero":false},"axis":{"title":null,"values":[0.1,0.2,0.3,0.4,0.5,0.6,0.7,0.8,0.9,1,1.1,1.2,1.3,1.4],"labelOverlap":false,"labelExpr":"round(datum.value*10) % 2 == 0 ? format(datum.value, '.1f') : ''","tickOpacity":{"condition":{"test":"round(datum.value*10) % 2 == 1","value":0},"value":1},"gridWidth":{"condition":{"test":"round(datum.value*10) % 2 == 1","value":0.8},"value":1.3}}},
  "y2":{"field":"hi"},
  "fill":{"field":"g","type":"nominal","sort":["HU","HEU"],"scale":{"range":["#3cb371","#ee5024"]},"legend":{"title":null,"orient":"none","legendX":129.5,"legendY":2,"clipHeight":25,"symbolType":"square","symbolSize":484,"symbolStrokeWidth":3,"symbolStrokeColor":"transparent","symbolOpacity":0.22,"labelOpacity":0}}}},
 {"mark":{"type":"line","interpolate":"monotone","strokeWidth":3.3,"clip":true},"encoding":{
  "x":{"field":"x","type":"quantitative","scale":{"domain":[0,24],"nice":false,"zero":false},"axis":{"title":null,"values":[0,1.5,3,4.5,6,7.5,9,10.5,12,13.5,15,16.5,18,19.5,21,22.5,24],"labelOverlap":false,"labelFlush":false,"labelExpr":"datum.value % 3 == 0 ? format(datum.value, 'd') : ''","tickOpacity":{"condition":{"test":"datum.value % 3 != 0","value":0},"value":1},"gridWidth":{"condition":{"test":"datum.value % 3 != 0","value":0.8},"value":1.3},"gridOpacity":{"condition":{"test":"datum.value == 0 || datum.value == 24","value":0},"value":1}}},
  "y":{"field":"y","type":"quantitative","scale":{"domain":[0.12,1.48],"nice":false,"zero":false},"axis":{"title":null,"values":[0.1,0.2,0.3,0.4,0.5,0.6,0.7,0.8,0.9,1,1.1,1.2,1.3,1.4],"labelOverlap":false,"labelExpr":"round(datum.value*10) % 2 == 0 ? format(datum.value, '.1f') : ''","tickOpacity":{"condition":{"test":"round(datum.value*10) % 2 == 1","value":0},"value":1},"gridWidth":{"condition":{"test":"round(datum.value*10) % 2 == 1","value":0.8},"value":1.3}}},
  "stroke":{"field":"g","type":"nominal","scale":{"domain":["HU","HEU"],"range":["#3cb371","#ee5024"]},"legend":{"title":null,"orient":"none","legendX":129.5,"legendY":2,"clipHeight":25,"symbolType":"stroke","symbolSize":484,"symbolStrokeWidth":3}}}}
]},
{"width":254,"height":157,"transform":[{"filter":"datum.p == 2"}],"layer":[
 {"mark":{"type":"area","interpolate":"monotone","fillOpacity":0.22,"clip":true},"encoding":{
  "x":{"field":"x","type":"quantitative","scale":{"domain":[0,24],"nice":false,"zero":false},"axis":{"title":null,"values":[0,1.5,3,4.5,6,7.5,9,10.5,12,13.5,15,16.5,18,19.5,21,22.5,24],"labelOverlap":false,"labelFlush":false,"labelExpr":"datum.value % 3 == 0 ? format(datum.value, 'd') : ''","tickOpacity":{"condition":{"test":"datum.value % 3 != 0","value":0},"value":1},"gridWidth":{"condition":{"test":"datum.value % 3 != 0","value":0.8},"value":1.3},"gridOpacity":{"condition":{"test":"datum.value == 0 || datum.value == 24","value":0},"value":1}}},
  "y":{"field":"lo","type":"quantitative","scale":{"domain":[0.097,1.127],"nice":false,"zero":false},"axis":{"title":null,"values":[0.1,0.2,0.3,0.4,0.5,0.6,0.7,0.8,0.9,1,1.1,1.2,1.3,1.4],"labelOverlap":false,"labelExpr":"round(datum.value*10) % 2 == 0 ? format(datum.value, '.1f') : ''","tickOpacity":{"condition":{"test":"round(datum.value*10) % 2 == 1","value":0},"value":1},"gridWidth":{"condition":{"test":"round(datum.value*10) % 2 == 1","value":0.8},"value":1.3}}},
  "y2":{"field":"hi"},
  "fill":{"field":"g","type":"nominal","sort":["Girls","Boys"],"scale":{"range":["#3cb371","#ee5024"]},"legend":{"title":null,"orient":"none","legendX":128.5,"legendY":2,"clipHeight":25,"symbolType":"square","symbolSize":484,"symbolStrokeWidth":3,"symbolStrokeColor":"transparent","symbolOpacity":0.22,"labelOpacity":0}}}},
 {"mark":{"type":"line","interpolate":"monotone","strokeWidth":3.3,"clip":true},"encoding":{
  "x":{"field":"x","type":"quantitative","scale":{"domain":[0,24],"nice":false,"zero":false},"axis":{"title":null,"values":[0,1.5,3,4.5,6,7.5,9,10.5,12,13.5,15,16.5,18,19.5,21,22.5,24],"labelOverlap":false,"labelFlush":false,"labelExpr":"datum.value % 3 == 0 ? format(datum.value, 'd') : ''","tickOpacity":{"condition":{"test":"datum.value % 3 != 0","value":0},"value":1},"gridWidth":{"condition":{"test":"datum.value % 3 != 0","value":0.8},"value":1.3},"gridOpacity":{"condition":{"test":"datum.value == 0 || datum.value == 24","value":0},"value":1}}},
  "y":{"field":"y","type":"quantitative","scale":{"domain":[0.097,1.127],"nice":false,"zero":false},"axis":{"title":null,"values":[0.1,0.2,0.3,0.4,0.5,0.6,0.7,0.8,0.9,1,1.1,1.2,1.3,1.4],"labelOverlap":false,"labelExpr":"round(datum.value*10) % 2 == 0 ? format(datum.value, '.1f') : ''","tickOpacity":{"condition":{"test":"round(datum.value*10) % 2 == 1","value":0},"value":1},"gridWidth":{"condition":{"test":"round(datum.value*10) % 2 == 1","value":0.8},"value":1.3}}},
  "stroke":{"field":"g","type":"nominal","scale":{"domain":["Girls","Boys"],"range":["#3cb371","#ee5024"]},"legend":{"title":null,"orient":"none","legendX":128.5,"legendY":2,"clipHeight":25,"symbolType":"stroke","symbolSize":484,"symbolStrokeWidth":3}}}}
]},
{"width":254,"height":157,"transform":[{"filter":"datum.p == 3"}],"layer":[
 {"mark":{"type":"area","interpolate":"monotone","fillOpacity":0.22,"clip":true},"encoding":{
  "x":{"field":"x","type":"quantitative","scale":{"domain":[0,24],"nice":false,"zero":false},"axis":{"title":null,"values":[0,1.5,3,4.5,6,7.5,9,10.5,12,13.5,15,16.5,18,19.5,21,22.5,24],"labelOverlap":false,"labelFlush":false,"labelExpr":"datum.value % 3 == 0 ? format(datum.value, 'd') : ''","tickOpacity":{"condition":{"test":"datum.value % 3 != 0","value":0},"value":1},"gridWidth":{"condition":{"test":"datum.value % 3 != 0","value":0.8},"value":1.3},"gridOpacity":{"condition":{"test":"datum.value == 0 || datum.value == 24","value":0},"value":1}}},
  "y":{"field":"lo","type":"quantitative","scale":{"domain":[0.104,0.943],"nice":false,"zero":false},"axis":{"title":null,"values":[0.1,0.2,0.3,0.4,0.5,0.6,0.7,0.8,0.9,1,1.1,1.2,1.3,1.4],"labelOverlap":false,"labelExpr":"round(datum.value*10) % 2 == 0 ? format(datum.value, '.1f') : ''","tickOpacity":{"condition":{"test":"round(datum.value*10) % 2 == 1","value":0},"value":1},"gridWidth":{"condition":{"test":"round(datum.value*10) % 2 == 1","value":0.8},"value":1.3}}},
  "y2":{"field":"hi"},
  "fill":{"field":"g","type":"nominal","sort":["Normal WfL","Low WfL"],"scale":{"range":["#3cb371","#ee5024"]},"legend":{"title":null,"orient":"none","legendX":99,"legendY":2,"clipHeight":25,"symbolType":"square","symbolSize":484,"symbolStrokeWidth":3,"symbolStrokeColor":"transparent","symbolOpacity":0.22,"labelOpacity":0}}}},
 {"mark":{"type":"line","interpolate":"monotone","strokeWidth":3.3,"clip":true},"encoding":{
  "x":{"field":"x","type":"quantitative","scale":{"domain":[0,24],"nice":false,"zero":false},"axis":{"title":null,"values":[0,1.5,3,4.5,6,7.5,9,10.5,12,13.5,15,16.5,18,19.5,21,22.5,24],"labelOverlap":false,"labelFlush":false,"labelExpr":"datum.value % 3 == 0 ? format(datum.value, 'd') : ''","tickOpacity":{"condition":{"test":"datum.value % 3 != 0","value":0},"value":1},"gridWidth":{"condition":{"test":"datum.value % 3 != 0","value":0.8},"value":1.3},"gridOpacity":{"condition":{"test":"datum.value == 0 || datum.value == 24","value":0},"value":1}}},
  "y":{"field":"y","type":"quantitative","scale":{"domain":[0.104,0.943],"nice":false,"zero":false},"axis":{"title":null,"values":[0.1,0.2,0.3,0.4,0.5,0.6,0.7,0.8,0.9,1,1.1,1.2,1.3,1.4],"labelOverlap":false,"labelExpr":"round(datum.value*10) % 2 == 0 ? format(datum.value, '.1f') : ''","tickOpacity":{"condition":{"test":"round(datum.value*10) % 2 == 1","value":0},"value":1},"gridWidth":{"condition":{"test":"round(datum.value*10) % 2 == 1","value":0.8},"value":1.3}}},
  "stroke":{"field":"g","type":"nominal","scale":{"domain":["Normal WfL","Low WfL"],"range":["#3cb371","#ee5024"]},"legend":{"title":null,"orient":"none","legendX":99,"legendY":2,"clipHeight":25,"symbolType":"stroke","symbolSize":484,"symbolStrokeWidth":3}}}}
]},
{"width":254,"height":157,"transform":[{"filter":"datum.p == 4"}],"layer":[
 {"mark":{"type":"area","interpolate":"monotone","fillOpacity":0.22,"clip":true},"encoding":{
  "x":{"field":"x","type":"quantitative","scale":{"domain":[0,24],"nice":false,"zero":false},"axis":{"title":null,"values":[0,1.5,3,4.5,6,7.5,9,10.5,12,13.5,15,16.5,18,19.5,21,22.5,24],"labelOverlap":false,"labelFlush":false,"labelExpr":"datum.value % 3 == 0 ? format(datum.value, 'd') : ''","tickOpacity":{"condition":{"test":"datum.value % 3 != 0","value":0},"value":1},"gridWidth":{"condition":{"test":"datum.value % 3 != 0","value":0.8},"value":1.3},"gridOpacity":{"condition":{"test":"datum.value == 0 || datum.value == 24","value":0},"value":1}}},
  "y":{"field":"lo","type":"quantitative","scale":{"domain":[0.111,1.004],"nice":false,"zero":false},"axis":{"title":null,"values":[0.1,0.2,0.3,0.4,0.5,0.6,0.7,0.8,0.9,1,1.1,1.2,1.3,1.4],"labelOverlap":false,"labelExpr":"round(datum.value*10) % 2 == 0 ? format(datum.value, '.1f') : ''","tickOpacity":{"condition":{"test":"round(datum.value*10) % 2 == 1","value":0},"value":1},"gridWidth":{"condition":{"test":"round(datum.value*10) % 2 == 1","value":0.8},"value":1.3}}},
  "y2":{"field":"hi"},
  "fill":{"field":"g","type":"nominal","sort":["Mbekweni","TC Newman"],"scale":{"range":["#3cb371","#ee5024"]},"legend":{"title":null,"orient":"none","legendX":97.5,"legendY":2,"clipHeight":25,"symbolType":"square","symbolSize":484,"symbolStrokeWidth":3,"symbolStrokeColor":"transparent","symbolOpacity":0.22,"labelOpacity":0}}}},
 {"mark":{"type":"line","interpolate":"monotone","strokeWidth":3.3,"clip":true},"encoding":{
  "x":{"field":"x","type":"quantitative","scale":{"domain":[0,24],"nice":false,"zero":false},"axis":{"title":null,"values":[0,1.5,3,4.5,6,7.5,9,10.5,12,13.5,15,16.5,18,19.5,21,22.5,24],"labelOverlap":false,"labelFlush":false,"labelExpr":"datum.value % 3 == 0 ? format(datum.value, 'd') : ''","tickOpacity":{"condition":{"test":"datum.value % 3 != 0","value":0},"value":1},"gridWidth":{"condition":{"test":"datum.value % 3 != 0","value":0.8},"value":1.3},"gridOpacity":{"condition":{"test":"datum.value == 0 || datum.value == 24","value":0},"value":1}}},
  "y":{"field":"y","type":"quantitative","scale":{"domain":[0.111,1.004],"nice":false,"zero":false},"axis":{"title":null,"values":[0.1,0.2,0.3,0.4,0.5,0.6,0.7,0.8,0.9,1,1.1,1.2,1.3,1.4],"labelOverlap":false,"labelExpr":"round(datum.value*10) % 2 == 0 ? format(datum.value, '.1f') : ''","tickOpacity":{"condition":{"test":"round(datum.value*10) % 2 == 1","value":0},"value":1},"gridWidth":{"condition":{"test":"round(datum.value*10) % 2 == 1","value":0.8},"value":1.3}}},
  "stroke":{"field":"g","type":"nominal","scale":{"domain":["Mbekweni","TC Newman"],"range":["#3cb371","#ee5024"]},"legend":{"title":null,"orient":"none","legendX":97.5,"legendY":2,"clipHeight":25,"symbolType":"stroke","symbolSize":484,"symbolStrokeWidth":3}}}}
]},
{"width":254,"height":157,"transform":[{"filter":"datum.p == 5"}],"layer":[
 {"mark":{"type":"area","interpolate":"monotone","fillOpacity":0.22,"clip":true},"encoding":{
  "x":{"field":"x","type":"quantitative","scale":{"domain":[0,24],"nice":false,"zero":false},"axis":{"title":null,"values":[0,1.5,3,4.5,6,7.5,9,10.5,12,13.5,15,16.5,18,19.5,21,22.5,24],"labelOverlap":false,"labelFlush":false,"labelExpr":"datum.value % 3 == 0 ? format(datum.value, 'd') : ''","tickOpacity":{"condition":{"test":"datum.value % 3 != 0","value":0},"value":1},"gridWidth":{"condition":{"test":"datum.value % 3 != 0","value":0.8},"value":1.3},"gridOpacity":{"condition":{"test":"datum.value == 0 || datum.value == 24","value":0},"value":1}}},
  "y":{"field":"lo","type":"quantitative","scale":{"domain":[0.118,1.324],"nice":false,"zero":false},"axis":{"title":"Incidence (Episodes per child year)","titleX":-47,"titleY":104,"titleAngle":270,"titleAlign":"center","titleBaseline":"alphabetic","values":[0.1,0.2,0.3,0.4,0.5,0.6,0.7,0.8,0.9,1,1.1,1.2,1.3,1.4],"labelOverlap":false,"labelExpr":"round(datum.value*10) % 2 == 0 ? format(datum.value, '.1f') : ''","tickOpacity":{"condition":{"test":"round(datum.value*10) % 2 == 1","value":0},"value":1},"gridWidth":{"condition":{"test":"round(datum.value*10) % 2 == 1","value":0.8},"value":1.3}}},
  "y2":{"field":"hi"},
  "fill":{"field":"g","type":"nominal","sort":["Full term","Preterm"],"scale":{"range":["#3cb371","#ee5024"]},"legend":{"title":null,"orient":"none","legendX":112.5,"legendY":1,"clipHeight":25,"symbolType":"square","symbolSize":484,"symbolStrokeWidth":3,"symbolStrokeColor":"transparent","symbolOpacity":0.22,"labelOpacity":0}}}},
 {"mark":{"type":"line","interpolate":"monotone","strokeWidth":3.3,"clip":true},"encoding":{
  "x":{"field":"x","type":"quantitative","scale":{"domain":[0,24],"nice":false,"zero":false},"axis":{"title":null,"values":[0,1.5,3,4.5,6,7.5,9,10.5,12,13.5,15,16.5,18,19.5,21,22.5,24],"labelOverlap":false,"labelFlush":false,"labelExpr":"datum.value % 3 == 0 ? format(datum.value, 'd') : ''","tickOpacity":{"condition":{"test":"datum.value % 3 != 0","value":0},"value":1},"gridWidth":{"condition":{"test":"datum.value % 3 != 0","value":0.8},"value":1.3},"gridOpacity":{"condition":{"test":"datum.value == 0 || datum.value == 24","value":0},"value":1}}},
  "y":{"field":"y","type":"quantitative","scale":{"domain":[0.118,1.324],"nice":false,"zero":false},"axis":{"title":"Incidence (Episodes per child year)","titleX":-47,"titleY":104,"titleAngle":270,"titleAlign":"center","titleBaseline":"alphabetic","values":[0.1,0.2,0.3,0.4,0.5,0.6,0.7,0.8,0.9,1,1.1,1.2,1.3,1.4],"labelOverlap":false,"labelExpr":"round(datum.value*10) % 2 == 0 ? format(datum.value, '.1f') : ''","tickOpacity":{"condition":{"test":"round(datum.value*10) % 2 == 1","value":0},"value":1},"gridWidth":{"condition":{"test":"round(datum.value*10) % 2 == 1","value":0.8},"value":1.3}}},
  "stroke":{"field":"g","type":"nominal","scale":{"domain":["Full term","Preterm"],"range":["#3cb371","#ee5024"]},"legend":{"title":null,"orient":"none","legendX":112.5,"legendY":1,"clipHeight":25,"symbolType":"stroke","symbolSize":484,"symbolStrokeWidth":3}}}}
]},
{"width":254,"height":157,"transform":[{"filter":"datum.p == 6"}],"layer":[
 {"mark":{"type":"area","interpolate":"monotone","fillOpacity":0.22,"clip":true},"encoding":{
  "x":{"field":"x","type":"quantitative","scale":{"domain":[0,24],"nice":false,"zero":false},"axis":{"title":null,"values":[0,1.5,3,4.5,6,7.5,9,10.5,12,13.5,15,16.5,18,19.5,21,22.5,24],"labelOverlap":false,"labelFlush":false,"labelExpr":"datum.value % 3 == 0 ? format(datum.value, 'd') : ''","tickOpacity":{"condition":{"test":"datum.value % 3 != 0","value":0},"value":1},"gridWidth":{"condition":{"test":"datum.value % 3 != 0","value":0.8},"value":1.3},"gridOpacity":{"condition":{"test":"datum.value == 0 || datum.value == 24","value":0},"value":1}}},
  "y":{"field":"lo","type":"quantitative","scale":{"domain":[0.108,1.458],"nice":false,"zero":false},"axis":{"title":null,"values":[0.1,0.2,0.3,0.4,0.5,0.6,0.7,0.8,0.9,1,1.1,1.2,1.3,1.4],"labelOverlap":false,"labelExpr":"round(datum.value*10) % 2 == 0 ? format(datum.value, '.1f') : ''","tickOpacity":{"condition":{"test":"round(datum.value*10) % 2 == 1","value":0},"value":1},"gridWidth":{"condition":{"test":"round(datum.value*10) % 2 == 1","value":0.8},"value":1.3}}},
  "y2":{"field":"hi"},
  "fill":{"field":"g","type":"nominal","sort":["Not low birthweight","Low birthweight"],"scale":{"range":["#3cb371","#ee5024"]},"legend":{"title":null,"orient":"none","legendX":69.5,"legendY":1,"clipHeight":25,"symbolType":"square","symbolSize":484,"symbolStrokeWidth":3,"symbolStrokeColor":"transparent","symbolOpacity":0.22,"labelOpacity":0}}}},
 {"mark":{"type":"line","interpolate":"monotone","strokeWidth":3.3,"clip":true},"encoding":{
  "x":{"field":"x","type":"quantitative","scale":{"domain":[0,24],"nice":false,"zero":false},"axis":{"title":null,"values":[0,1.5,3,4.5,6,7.5,9,10.5,12,13.5,15,16.5,18,19.5,21,22.5,24],"labelOverlap":false,"labelFlush":false,"labelExpr":"datum.value % 3 == 0 ? format(datum.value, 'd') : ''","tickOpacity":{"condition":{"test":"datum.value % 3 != 0","value":0},"value":1},"gridWidth":{"condition":{"test":"datum.value % 3 != 0","value":0.8},"value":1.3},"gridOpacity":{"condition":{"test":"datum.value == 0 || datum.value == 24","value":0},"value":1}}},
  "y":{"field":"y","type":"quantitative","scale":{"domain":[0.108,1.458],"nice":false,"zero":false},"axis":{"title":null,"values":[0.1,0.2,0.3,0.4,0.5,0.6,0.7,0.8,0.9,1,1.1,1.2,1.3,1.4],"labelOverlap":false,"labelExpr":"round(datum.value*10) % 2 == 0 ? format(datum.value, '.1f') : ''","tickOpacity":{"condition":{"test":"round(datum.value*10) % 2 == 1","value":0},"value":1},"gridWidth":{"condition":{"test":"round(datum.value*10) % 2 == 1","value":0.8},"value":1.3}}},
  "stroke":{"field":"g","type":"nominal","scale":{"domain":["Not low birthweight","Low birthweight"],"range":["#3cb371","#ee5024"]},"legend":{"title":null,"orient":"none","legendX":69.5,"legendY":1,"clipHeight":25,"symbolType":"stroke","symbolSize":484,"symbolStrokeWidth":3}}}}
]},
{"width":254,"height":157,"transform":[{"filter":"datum.p == 7"}],"layer":[
 {"mark":{"type":"area","interpolate":"monotone","fillOpacity":0.22,"clip":true},"encoding":{
  "x":{"field":"x","type":"quantitative","scale":{"domain":[0,24],"nice":false,"zero":false},"axis":{"title":null,"values":[0,1.5,3,4.5,6,7.5,9,10.5,12,13.5,15,16.5,18,19.5,21,22.5,24],"labelOverlap":false,"labelFlush":false,"labelExpr":"datum.value % 3 == 0 ? format(datum.value, 'd') : ''","tickOpacity":{"condition":{"test":"datum.value % 3 != 0","value":0},"value":1},"gridWidth":{"condition":{"test":"datum.value % 3 != 0","value":0.8},"value":1.3},"gridOpacity":{"condition":{"test":"datum.value == 0 || datum.value == 24","value":0},"value":1}}},
  "y":{"field":"lo","type":"quantitative","scale":{"domain":[0.113,1.085],"nice":false,"zero":false},"axis":{"title":null,"values":[0.1,0.2,0.3,0.4,0.5,0.6,0.7,0.8,0.9,1,1.1,1.2,1.3,1.4],"labelOverlap":false,"labelExpr":"round(datum.value*10) % 2 == 0 ? format(datum.value, '.1f') : ''","tickOpacity":{"condition":{"test":"round(datum.value*10) % 2 == 1","value":0},"value":1},"gridWidth":{"condition":{"test":"round(datum.value*10) % 2 == 1","value":0.8},"value":1.3}}},
  "y2":{"field":"hi"},
  "fill":{"field":"g","type":"nominal","sort":["Lower SES","Higher SES"],"scale":{"range":["#3cb371","#ee5024"]},"legend":{"title":null,"orient":"none","legendX":100,"legendY":1,"clipHeight":25,"symbolType":"square","symbolSize":484,"symbolStrokeWidth":3,"symbolStrokeColor":"transparent","symbolOpacity":0.22,"labelOpacity":0}}}},
 {"mark":{"type":"line","interpolate":"monotone","strokeWidth":3.3,"clip":true},"encoding":{
  "x":{"field":"x","type":"quantitative","scale":{"domain":[0,24],"nice":false,"zero":false},"axis":{"title":null,"values":[0,1.5,3,4.5,6,7.5,9,10.5,12,13.5,15,16.5,18,19.5,21,22.5,24],"labelOverlap":false,"labelFlush":false,"labelExpr":"datum.value % 3 == 0 ? format(datum.value, 'd') : ''","tickOpacity":{"condition":{"test":"datum.value % 3 != 0","value":0},"value":1},"gridWidth":{"condition":{"test":"datum.value % 3 != 0","value":0.8},"value":1.3},"gridOpacity":{"condition":{"test":"datum.value == 0 || datum.value == 24","value":0},"value":1}}},
  "y":{"field":"y","type":"quantitative","scale":{"domain":[0.113,1.085],"nice":false,"zero":false},"axis":{"title":null,"values":[0.1,0.2,0.3,0.4,0.5,0.6,0.7,0.8,0.9,1,1.1,1.2,1.3,1.4],"labelOverlap":false,"labelExpr":"round(datum.value*10) % 2 == 0 ? format(datum.value, '.1f') : ''","tickOpacity":{"condition":{"test":"round(datum.value*10) % 2 == 1","value":0},"value":1},"gridWidth":{"condition":{"test":"round(datum.value*10) % 2 == 1","value":0.8},"value":1.3}}},
  "stroke":{"field":"g","type":"nominal","scale":{"domain":["Lower SES","Higher SES"],"range":["#3cb371","#ee5024"]},"legend":{"title":null,"orient":"none","legendX":100,"legendY":1,"clipHeight":25,"symbolType":"stroke","symbolSize":484,"symbolStrokeWidth":3}}}}
]},
{"width":254,"height":157,"transform":[{"filter":"datum.p == 8"}],"layer":[
 {"mark":{"type":"area","interpolate":"monotone","fillOpacity":0.22,"clip":true},"encoding":{
  "x":{"field":"x","type":"quantitative","scale":{"domain":[0,24],"nice":false,"zero":false},"axis":{"title":null,"values":[0,1.5,3,4.5,6,7.5,9,10.5,12,13.5,15,16.5,18,19.5,21,22.5,24],"labelOverlap":false,"labelFlush":false,"labelExpr":"datum.value % 3 == 0 ? format(datum.value, 'd') : ''","tickOpacity":{"condition":{"test":"datum.value % 3 != 0","value":0},"value":1},"gridWidth":{"condition":{"test":"datum.value % 3 != 0","value":0.8},"value":1.3},"gridOpacity":{"condition":{"test":"datum.value == 0 || datum.value == 24","value":0},"value":1}}},
  "y":{"field":"lo","type":"quantitative","scale":{"domain":[0.12,1.056],"nice":false,"zero":false},"axis":{"title":null,"values":[0.1,0.2,0.3,0.4,0.5,0.6,0.7,0.8,0.9,1,1.1,1.2,1.3,1.4],"labelOverlap":false,"labelExpr":"round(datum.value*10) % 2 == 0 ? format(datum.value, '.1f') : ''","tickOpacity":{"condition":{"test":"round(datum.value*10) % 2 == 1","value":0},"value":1},"gridWidth":{"condition":{"test":"round(datum.value*10) % 2 == 1","value":0.8},"value":1.3}}},
  "y2":{"field":"hi"},
  "fill":{"field":"g","type":"nominal","sort":["Uncrowded","Crowded"],"scale":{"range":["#3cb371","#ee5024"]},"legend":{"title":null,"orient":"none","legendX":101,"legendY":1,"clipHeight":25,"symbolType":"square","symbolSize":484,"symbolStrokeWidth":3,"symbolStrokeColor":"transparent","symbolOpacity":0.22,"labelOpacity":0}}}},
 {"mark":{"type":"line","interpolate":"monotone","strokeWidth":3.3,"clip":true},"encoding":{
  "x":{"field":"x","type":"quantitative","scale":{"domain":[0,24],"nice":false,"zero":false},"axis":{"title":null,"values":[0,1.5,3,4.5,6,7.5,9,10.5,12,13.5,15,16.5,18,19.5,21,22.5,24],"labelOverlap":false,"labelFlush":false,"labelExpr":"datum.value % 3 == 0 ? format(datum.value, 'd') : ''","tickOpacity":{"condition":{"test":"datum.value % 3 != 0","value":0},"value":1},"gridWidth":{"condition":{"test":"datum.value % 3 != 0","value":0.8},"value":1.3},"gridOpacity":{"condition":{"test":"datum.value == 0 || datum.value == 24","value":0},"value":1}}},
  "y":{"field":"y","type":"quantitative","scale":{"domain":[0.12,1.056],"nice":false,"zero":false},"axis":{"title":null,"values":[0.1,0.2,0.3,0.4,0.5,0.6,0.7,0.8,0.9,1,1.1,1.2,1.3,1.4],"labelOverlap":false,"labelExpr":"round(datum.value*10) % 2 == 0 ? format(datum.value, '.1f') : ''","tickOpacity":{"condition":{"test":"round(datum.value*10) % 2 == 1","value":0},"value":1},"gridWidth":{"condition":{"test":"round(datum.value*10) % 2 == 1","value":0.8},"value":1.3}}},
  "stroke":{"field":"g","type":"nominal","scale":{"domain":["Uncrowded","Crowded"],"range":["#3cb371","#ee5024"]},"legend":{"title":null,"orient":"none","legendX":101,"legendY":1,"clipHeight":25,"symbolType":"stroke","symbolSize":484,"symbolStrokeWidth":3}}}}
]},
{"width":254,"height":157,"transform":[{"filter":"datum.p == 9"}],"layer":[
 {"mark":{"type":"area","interpolate":"monotone","fillOpacity":0.22,"clip":true},"encoding":{
  "x":{"field":"x","type":"quantitative","scale":{"domain":[0,24],"nice":false,"zero":false},"axis":{"title":"Fig. 2","titleX":-67,"titleY":94,"titleAlign":"left","titleBaseline":"alphabetic","titleFontWeight":"bold","titleFontSize":19.5,"titleColor":"#231f20","values":[0,1.5,3,4.5,6,7.5,9,10.5,12,13.5,15,16.5,18,19.5,21,22.5,24],"labelOverlap":false,"labelFlush":false,"labelExpr":"datum.value % 3 == 0 ? format(datum.value, 'd') : ''","tickOpacity":{"condition":{"test":"datum.value % 3 != 0","value":0},"value":1},"gridWidth":{"condition":{"test":"datum.value % 3 != 0","value":0.8},"value":1.3},"gridOpacity":{"condition":{"test":"datum.value == 0 || datum.value == 24","value":0},"value":1}}},
  "y":{"field":"lo","type":"quantitative","scale":{"domain":[0.11,1.169],"nice":false,"zero":false},"axis":{"title":null,"values":[0.1,0.2,0.3,0.4,0.5,0.6,0.7,0.8,0.9,1,1.1,1.2,1.3,1.4],"labelOverlap":false,"labelExpr":"round(datum.value*10) % 2 == 0 ? format(datum.value, '.1f') : ''","tickOpacity":{"condition":{"test":"round(datum.value*10) % 2 == 1","value":0},"value":1},"gridWidth":{"condition":{"test":"round(datum.value*10) % 2 == 1","value":0.8},"value":1.3}}},
  "y2":{"field":"hi"},
  "fill":{"field":"g","type":"nominal","sort":["No smoking","Maternal smoking"],"scale":{"range":["#3cb371","#ee5024"]},"legend":{"title":null,"orient":"none","legendX":74.5,"legendY":2,"clipHeight":25,"symbolType":"square","symbolSize":484,"symbolStrokeWidth":3,"symbolStrokeColor":"transparent","symbolOpacity":0.22,"labelOpacity":0}}}},
 {"mark":{"type":"line","interpolate":"monotone","strokeWidth":3.3,"clip":true},"encoding":{
  "x":{"field":"x","type":"quantitative","scale":{"domain":[0,24],"nice":false,"zero":false},"axis":{"title":"Fig. 2","titleX":-67,"titleY":94,"titleAlign":"left","titleBaseline":"alphabetic","titleFontWeight":"bold","titleFontSize":19.5,"titleColor":"#231f20","values":[0,1.5,3,4.5,6,7.5,9,10.5,12,13.5,15,16.5,18,19.5,21,22.5,24],"labelOverlap":false,"labelFlush":false,"labelExpr":"datum.value % 3 == 0 ? format(datum.value, 'd') : ''","tickOpacity":{"condition":{"test":"datum.value % 3 != 0","value":0},"value":1},"gridWidth":{"condition":{"test":"datum.value % 3 != 0","value":0.8},"value":1.3},"gridOpacity":{"condition":{"test":"datum.value == 0 || datum.value == 24","value":0},"value":1}}},
  "y":{"field":"y","type":"quantitative","scale":{"domain":[0.11,1.169],"nice":false,"zero":false},"axis":{"title":null,"values":[0.1,0.2,0.3,0.4,0.5,0.6,0.7,0.8,0.9,1,1.1,1.2,1.3,1.4],"labelOverlap":false,"labelExpr":"round(datum.value*10) % 2 == 0 ? format(datum.value, '.1f') : ''","tickOpacity":{"condition":{"test":"round(datum.value*10) % 2 == 1","value":0},"value":1},"gridWidth":{"condition":{"test":"round(datum.value*10) % 2 == 1","value":0.8},"value":1.3}}},
  "stroke":{"field":"g","type":"nominal","scale":{"domain":["No smoking","Maternal smoking"],"range":["#3cb371","#ee5024"]},"legend":{"title":null,"orient":"none","legendX":74.5,"legendY":2,"clipHeight":25,"symbolType":"stroke","symbolSize":484,"symbolStrokeWidth":3}}}}
]},
{"width":254,"height":157,"transform":[{"filter":"datum.p == 10"}],"layer":[
 {"mark":{"type":"area","interpolate":"monotone","fillOpacity":0.22,"clip":true},"encoding":{
  "x":{"field":"x","type":"quantitative","scale":{"domain":[0,24],"nice":false,"zero":false},"axis":{"title":"Age (months)","titleX":262,"titleY":52,"titleAlign":"center","titleBaseline":"alphabetic","values":[0,1.5,3,4.5,6,7.5,9,10.5,12,13.5,15,16.5,18,19.5,21,22.5,24],"labelOverlap":false,"labelFlush":false,"labelExpr":"datum.value % 3 == 0 ? format(datum.value, 'd') : ''","tickOpacity":{"condition":{"test":"datum.value % 3 != 0","value":0},"value":1},"gridWidth":{"condition":{"test":"datum.value % 3 != 0","value":0.8},"value":1.3},"gridOpacity":{"condition":{"test":"datum.value == 0 || datum.value == 24","value":0},"value":1}}},
  "y":{"field":"lo","type":"quantitative","scale":{"domain":[0.1,0.862],"nice":false,"zero":false},"axis":{"title":["exponential additive mixed models. For each variable we chose the time-constant model except for HIV exposure status and weight-for-length at","birth where we had sufficient evidence for a time-varying effect. The shaded areas indicate the 95% confidence intervals"],"titleAngle":0,"titleX":-373,"titleY":276,"titleAlign":"left","titleBaseline":"alphabetic","titleLineHeight":25.5,"titleFontSize":19.5,"titleColor":"#231f20","titleLimit":3000,"values":[0.1,0.2,0.3,0.4,0.5,0.6,0.7,0.8,0.9,1,1.1,1.2,1.3,1.4],"labelOverlap":false,"labelExpr":"round(datum.value*10) % 2 == 0 ? format(datum.value, '.1f') : ''","tickOpacity":{"condition":{"test":"round(datum.value*10) % 2 == 1","value":0},"value":1},"gridWidth":{"condition":{"test":"round(datum.value*10) % 2 == 1","value":0.8},"value":1.3}}},
  "y2":{"field":"hi"},
  "fill":{"field":"g","type":"nominal","sort":["Unexposed","Air pollution exposed"],"scale":{"range":["#3cb371","#ee5024"]},"legend":{"title":null,"orient":"none","legendX":55,"legendY":2,"clipHeight":25,"symbolType":"square","symbolSize":484,"symbolStrokeWidth":3,"symbolStrokeColor":"transparent","symbolOpacity":0.22,"labelOpacity":0}}}},
 {"mark":{"type":"line","interpolate":"monotone","strokeWidth":3.3,"clip":true},"encoding":{
  "x":{"field":"x","type":"quantitative","scale":{"domain":[0,24],"nice":false,"zero":false},"axis":{"title":"Age (months)","titleX":262,"titleY":52,"titleAlign":"center","titleBaseline":"alphabetic","values":[0,1.5,3,4.5,6,7.5,9,10.5,12,13.5,15,16.5,18,19.5,21,22.5,24],"labelOverlap":false,"labelFlush":false,"labelExpr":"datum.value % 3 == 0 ? format(datum.value, 'd') : ''","tickOpacity":{"condition":{"test":"datum.value % 3 != 0","value":0},"value":1},"gridWidth":{"condition":{"test":"datum.value % 3 != 0","value":0.8},"value":1.3},"gridOpacity":{"condition":{"test":"datum.value == 0 || datum.value == 24","value":0},"value":1}}},
  "y":{"field":"y","type":"quantitative","scale":{"domain":[0.1,0.862],"nice":false,"zero":false},"axis":{"title":["exponential additive mixed models. For each variable we chose the time-constant model except for HIV exposure status and weight-for-length at","birth where we had sufficient evidence for a time-varying effect. The shaded areas indicate the 95% confidence intervals"],"titleAngle":0,"titleX":-373,"titleY":276,"titleAlign":"left","titleBaseline":"alphabetic","titleLineHeight":25.5,"titleFontSize":19.5,"titleColor":"#231f20","titleLimit":3000,"values":[0.1,0.2,0.3,0.4,0.5,0.6,0.7,0.8,0.9,1,1.1,1.2,1.3,1.4],"labelOverlap":false,"labelExpr":"round(datum.value*10) % 2 == 0 ? format(datum.value, '.1f') : ''","tickOpacity":{"condition":{"test":"round(datum.value*10) % 2 == 1","value":0},"value":1},"gridWidth":{"condition":{"test":"round(datum.value*10) % 2 == 1","value":0.8},"value":1.3}}},
  "stroke":{"field":"g","type":"nominal","scale":{"domain":["Unexposed","Air pollution exposed"],"range":["#3cb371","#ee5024"]},"legend":{"title":null,"orient":"none","legendX":55,"legendY":2,"clipHeight":25,"symbolType":"stroke","symbolSize":484,"symbolStrokeWidth":3}}}}
]},
{"width":254,"height":157,"transform":[{"filter":"datum.p == 11"}],"layer":[
 {"mark":{"type":"area","interpolate":"monotone","fillOpacity":0.22,"clip":true},"encoding":{
  "x":{"field":"x","type":"quantitative","scale":{"domain":[0,24],"nice":false,"zero":false},"axis":{"title":"The incidence rates (hazard rates) for pneumonia from birth until 2 years by several risk factors estimated by univariable piece-wise","titleX":-622.7,"titleY":94,"titleAlign":"left","titleBaseline":"alphabetic","titleFontSize":19.5,"titleColor":"#231f20","titleLimit":3000,"values":[0,1.5,3,4.5,6,7.5,9,10.5,12,13.5,15,16.5,18,19.5,21,22.5,24],"labelOverlap":false,"labelFlush":false,"labelExpr":"datum.value % 3 == 0 ? format(datum.value, 'd') : ''","tickOpacity":{"condition":{"test":"datum.value % 3 != 0","value":0},"value":1},"gridWidth":{"condition":{"test":"datum.value % 3 != 0","value":0.8},"value":1.3},"gridOpacity":{"condition":{"test":"datum.value == 0 || datum.value == 24","value":0},"value":1}}},
  "y":{"field":"lo","type":"quantitative","scale":{"domain":[0.1,1.004],"nice":false,"zero":false},"axis":{"title":null,"values":[0.1,0.2,0.3,0.4,0.5,0.6,0.7,0.8,0.9,1,1.1,1.2,1.3,1.4],"labelOverlap":false,"labelExpr":"round(datum.value*10) % 2 == 0 ? format(datum.value, '.1f') : ''","tickOpacity":{"condition":{"test":"round(datum.value*10) % 2 == 1","value":0},"value":1},"gridWidth":{"condition":{"test":"round(datum.value*10) % 2 == 1","value":0.8},"value":1.3}}},
  "y2":{"field":"hi"},
  "fill":{"field":"g","type":"nominal","sort":["Higher education","Lower education"],"scale":{"range":["#3cb371","#ee5024"]},"legend":{"title":null,"orient":"none","legendX":77.5,"legendY":2,"clipHeight":25,"symbolType":"square","symbolSize":484,"symbolStrokeWidth":3,"symbolStrokeColor":"transparent","symbolOpacity":0.22,"labelOpacity":0}}}},
 {"mark":{"type":"line","interpolate":"monotone","strokeWidth":3.3,"clip":true},"encoding":{
  "x":{"field":"x","type":"quantitative","scale":{"domain":[0,24],"nice":false,"zero":false},"axis":{"title":"The incidence rates (hazard rates) for pneumonia from birth until 2 years by several risk factors estimated by univariable piece-wise","titleX":-622.7,"titleY":94,"titleAlign":"left","titleBaseline":"alphabetic","titleFontSize":19.5,"titleColor":"#231f20","titleLimit":3000,"values":[0,1.5,3,4.5,6,7.5,9,10.5,12,13.5,15,16.5,18,19.5,21,22.5,24],"labelOverlap":false,"labelFlush":false,"labelExpr":"datum.value % 3 == 0 ? format(datum.value, 'd') : ''","tickOpacity":{"condition":{"test":"datum.value % 3 != 0","value":0},"value":1},"gridWidth":{"condition":{"test":"datum.value % 3 != 0","value":0.8},"value":1.3},"gridOpacity":{"condition":{"test":"datum.value == 0 || datum.value == 24","value":0},"value":1}}},
  "y":{"field":"y","type":"quantitative","scale":{"domain":[0.1,1.004],"nice":false,"zero":false},"axis":{"title":null,"values":[0.1,0.2,0.3,0.4,0.5,0.6,0.7,0.8,0.9,1,1.1,1.2,1.3,1.4],"labelOverlap":false,"labelExpr":"round(datum.value*10) % 2 == 0 ? format(datum.value, '.1f') : ''","tickOpacity":{"condition":{"test":"round(datum.value*10) % 2 == 1","value":0},"value":1},"gridWidth":{"condition":{"test":"round(datum.value*10) % 2 == 1","value":0.8},"value":1.3}}},
  "stroke":{"field":"g","type":"nominal","scale":{"domain":["Higher education","Lower education"],"range":["#3cb371","#ee5024"]},"legend":{"title":null,"orient":"none","legendX":77.5,"legendY":2,"clipHeight":25,"symbolType":"stroke","symbolSize":484,"symbolStrokeWidth":3}}}}
]}
],
"resolve": {
  "scale": {"x": "independent", "y": "independent", "fill": "independent", "stroke": "independent"},
  "legend": {"fill": "independent", "stroke": "independent"}
},
"config": {
  "font": "Liberation Sans",
  "view": {"stroke": "#1a1a1a", "strokeWidth": 1.3},
  "axis": {"domain": false, "grid": true, "gridColor": "#ebebeb", "tickColor": "#333333", "tickSize": 4, "tickWidth": 1,
           "labelFont": "Liberation Sans", "labelFontSize": 17.5, "labelColor": "#4d4d4d", "labelPadding": 3,
           "titleFont": "Liberation Sans", "titleFontSize": 20.5, "titleFontWeight": "normal", "titleColor": "#000000"},
  "legend": {"padding": 0, "offset": 0, "labelFont": "Liberation Sans", "labelFontSize": 18.5, "labelColor": "#000000",
             "labelLimit": 400, "rowPadding": 0, "labelOffset": 7}
}
}
